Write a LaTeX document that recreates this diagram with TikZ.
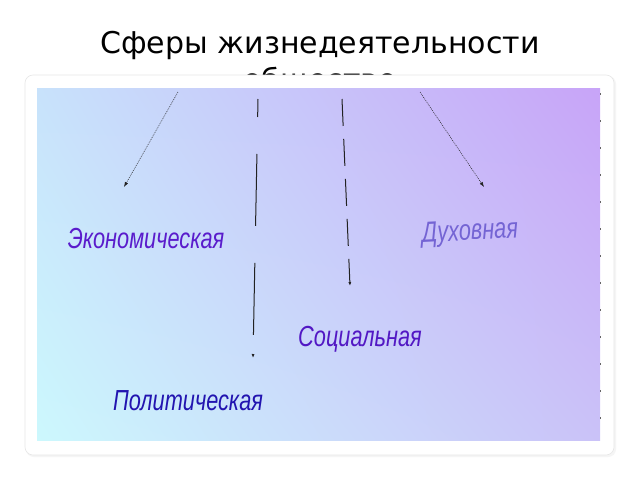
\documentclass[tikz,border=0pt]{standalone}
\usepackage{fontspec}
\setmainfont{DejaVu Sans}
\newfontfamily\labfont{Liberation Sans}
\usetikzlibrary{arrows.meta,shadings}
\definecolor{cLL}{HTML}{CCF8FD}
\definecolor{cUR}{HTML}{C8A4F8}
\definecolor{cUL}{HTML}{C8E2FB}
\definecolor{cLR}{HTML}{CAC2F8}
\definecolor{cEko}{HTML}{5A1CCC}
\definecolor{cDuh}{HTML}{7464D4}
\definecolor{cSoc}{HTML}{5218C4}
\definecolor{cPol}{HTML}{2214B0}
\definecolor{cardline}{HTML}{E6E6E6}
\definecolor{arrcol}{HTML}{222222}
\tikzset{
  lab/.style={inner sep=0pt, font=\labfont\itshape\fontsize{29}{32}\selectfont},
  ttl/.style={inner sep=0pt, font=\fontsize{30}{34}\selectfont},
  dotarrow/.style={draw=arrcol, line width=0.5pt, dash pattern=on 1pt off 1pt, -{Latex[length=5pt,width=3.5pt]}},
  longdash/.style={draw=arrcol, line width=1pt, dash pattern=on 72pt off 37pt, dash phase=54pt, -{Latex[length=4pt,width=3pt]}},
  shortdash/.style={draw=arrcol, line width=1pt, dash pattern=on 27pt off 13pt, -{Latex[length=4pt,width=3pt]}},
}
\begin{document}
\begin{tikzpicture}[x=1pt,y=-1pt]
\useasboundingbox (0,0) rectangle (640,480);
\fill[white] (0,0) rectangle (640,480);
% title
\node[ttl] (title1) at (320,45) {Сферы жизнедеятельности};
\node[ttl, anchor=base] (title2) at (320,90) {общество};
% card
\fill[black!4, rounded corners=8pt] (26,76) rectangle (616,457);
\filldraw[fill=white, draw=cardline, line width=0.6pt, rounded corners=8pt] (25,75) rectangle (614,455);
% gradient panel
\shade[lower left=cLL, upper right=cUR, upper left=cUL, lower right=cLR] (37,88) rectangle (600,440);
\draw[black!60, line width=1pt, dash pattern=on 2pt off 25pt, dash phase=-5pt] (600,88) -- (600,440);
% labels
\node[lab, text=cEko] (eko) at (146,239) {\scalebox{0.75}[1]{Экономическая}};
\node[lab, text=cDuh, rotate=3] (duh) at (470,233) {\scalebox{0.75}[1]{Духовная}};
\node[lab, text=cSoc] (soc) at (360,339) {\scalebox{0.75}[1]{Социальная}};
\node[lab, text=cPol] (pol) at (188,401) {\scalebox{0.75}[1]{Политическая}};
% arrow ends
\coordinate (s1) at (178,92);
\coordinate (e1) at (124,187);
\coordinate (s2) at (258,99);
\coordinate (e2) at (253,358);
\coordinate (s3) at (342,99);
\coordinate (e3) at (350,286);
\coordinate (s4) at (420,92);
\coordinate (e4) at (484,187);
\draw[dotarrow] (s1) -- (e1);
\draw[longdash] (s2) -- (e2);
\draw[shortdash] (s3) -- (e3);
\draw[dotarrow] (s4) -- (e4);
\end{tikzpicture}
\end{document}
